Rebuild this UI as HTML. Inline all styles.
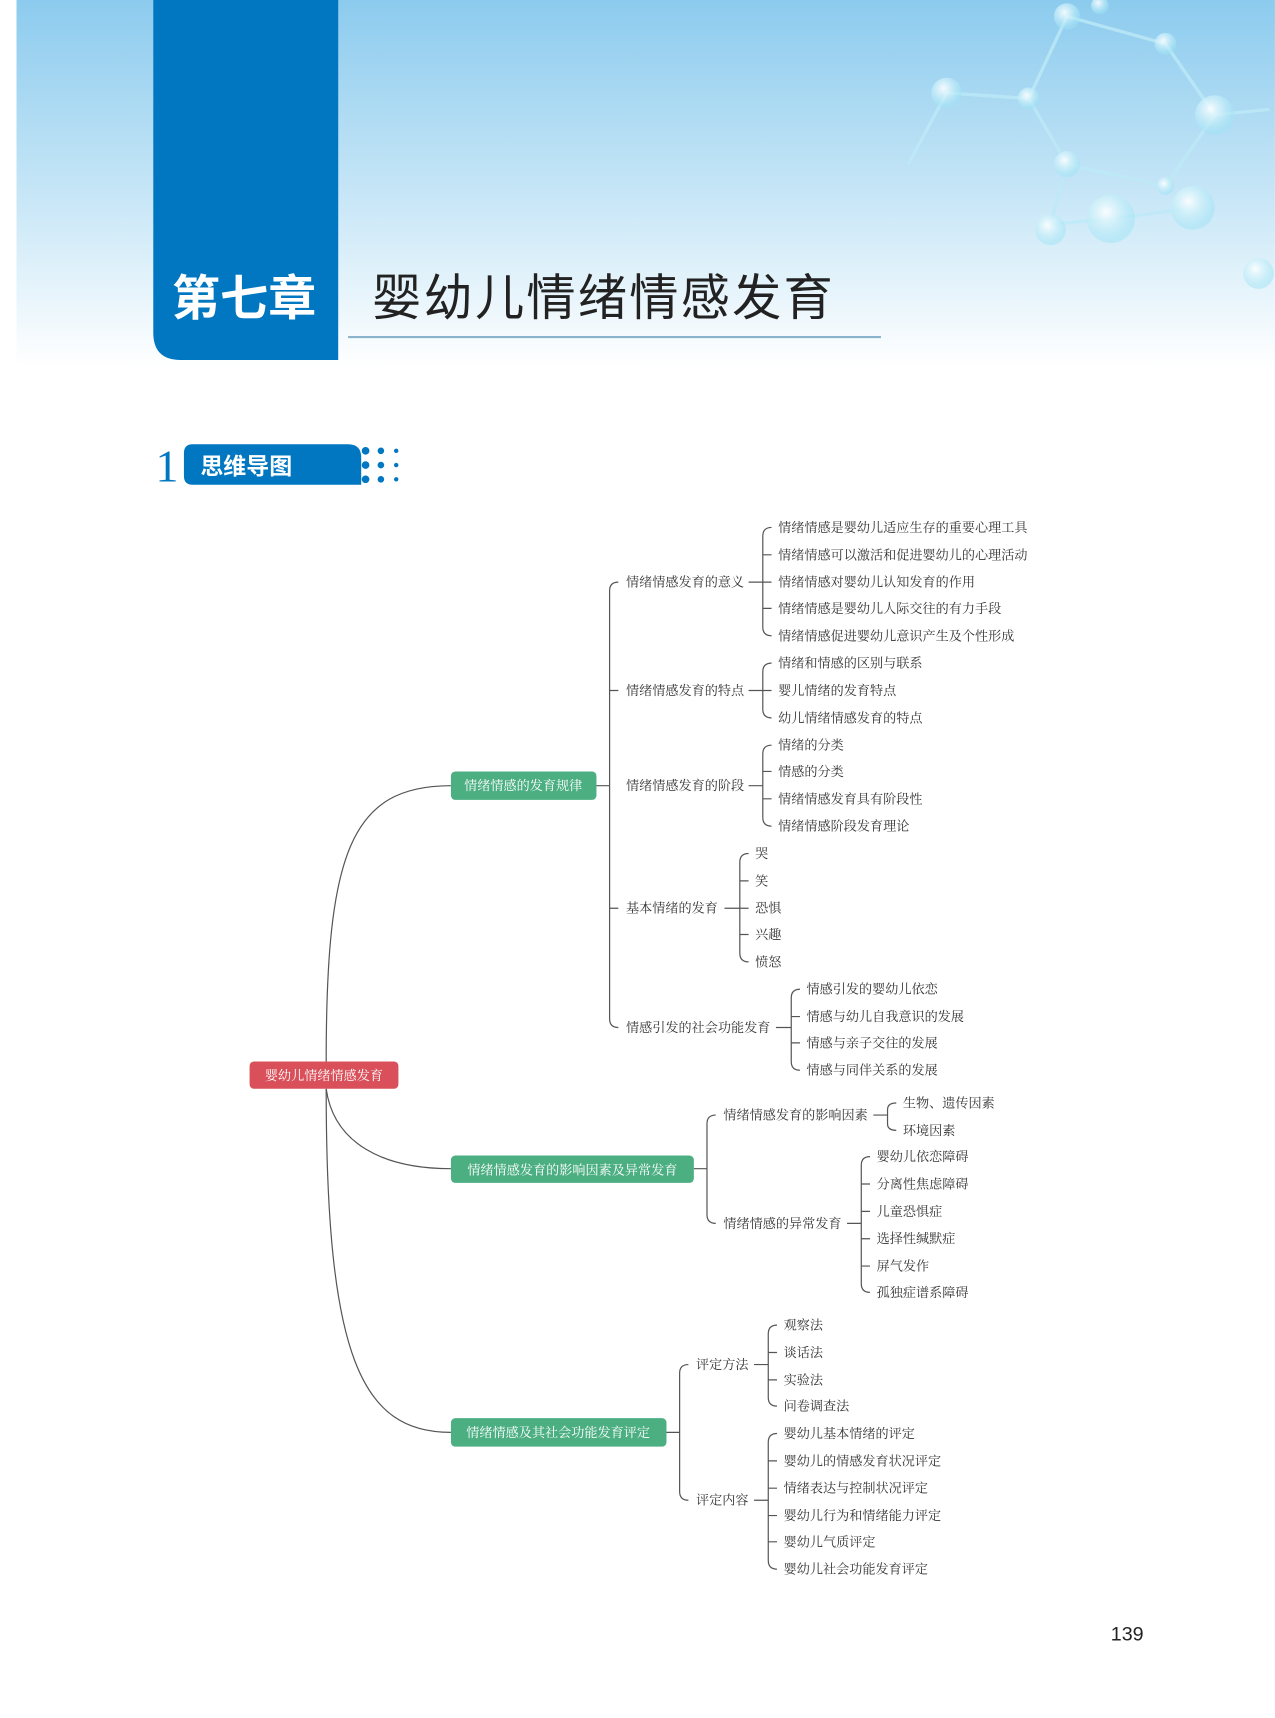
<!DOCTYPE html>
<html><head><meta charset="utf-8"><style>
html,body{margin:0;padding:0;background:#fff}
svg{display:block}
text{font-family:"Liberation Serif","Noto Serif CJK SC","Noto Sans CJK SC",serif;}
.l{font-size:12px;fill:#333;dominant-baseline:central}
.g{font-size:12px;fill:#fff;dominant-baseline:central}
.ln{fill:none;stroke:#555;stroke-width:1.1}
</style></head><body>
<svg width="1275" height="1718" viewBox="0 0 1165 1570" xmlns="http://www.w3.org/2000/svg">
<defs>
<linearGradient id="bg" x1="0" y1="0" x2="0" y2="1">
<stop offset="0" stop-color="#8ccbee"/><stop offset="0.55" stop-color="#c9e7f7"/><stop offset="1" stop-color="#ffffff"/>
</linearGradient>
<radialGradient id="bub" cx="0.4" cy="0.35" r="0.6">
<stop offset="0" stop-color="#ffffff" stop-opacity="0.9"/><stop offset="1" stop-color="#9fe3f5" stop-opacity="0.5"/>
</radialGradient>
</defs>
<rect x="15" y="0" width="1150" height="335" fill="url(#bg)"/>
<g stroke="#bdeaf7" stroke-width="3" fill="none" opacity="0.8">
<path d="M975,15 L1065,40 L1110,105 L1065,170 L975,150 L940,90 Z"/>
<path d="M940,90 L865,85 L830,150"/>
<path d="M1110,105 L1160,100"/>
<path d="M975,150 L960,205 L1015,200 L1090,190"/>
</g>
<g fill="url(#bub)">
<circle cx="975" cy="15" r="12"/><circle cx="1065" cy="40" r="10"/><circle cx="1110" cy="105" r="18"/>
<circle cx="1065" cy="170" r="8"/><circle cx="975" cy="150" r="12"/><circle cx="940" cy="90" r="10"/>
<circle cx="865" cy="85" r="14"/><circle cx="1015" cy="200" r="22"/><circle cx="1090" cy="190" r="20"/>
<circle cx="960" cy="210" r="14"/><circle cx="1150" cy="250" r="14"/><circle cx="1005" cy="5" r="8"/>
</g>
<path d="M140,0 H309 V329 H165 Q140,329 140,304 Z" fill="#0077c0"/>
<text x="157" y="288" style="font-family:'Liberation Sans','Noto Sans CJK SC',sans-serif;font-weight:bold;font-size:44px;fill:#fff">第七章</text>
<text x="340" y="288" style="font-family:'Liberation Sans','Noto Sans CJK SC',sans-serif;font-size:45px;letter-spacing:2px;fill:#222">婴幼儿情绪情感发育</text>
<line x1="318" y1="308" x2="805" y2="308" stroke="#8ab4cc" stroke-width="2"/>
<text x="142" y="440" style="font-family:'Liberation Serif',serif;font-size:42px;fill:#0077c0">1</text>
<path d="M176,406 H318 Q330,406 330,418 V443 H176 Q168,443 168,435 V414 Q168,406 176,406 Z" fill="#0077c0"/>
<text x="183" y="433" style="font-family:'Liberation Sans','Noto Sans CJK SC',sans-serif;font-weight:bold;font-size:21px;fill:#fff">思维导图</text>
<g fill="#0077c0">
<circle cx="320" cy="412" r="4"/><circle cx="320" cy="425" r="5"/><circle cx="320" cy="438" r="4"/>
<circle cx="334" cy="412" r="3.5"/><circle cx="334" cy="425" r="3.5"/><circle cx="334" cy="438" r="3.5"/>
<circle cx="348" cy="412" r="3"/><circle cx="348" cy="425" r="3"/><circle cx="348" cy="438" r="3"/>
<circle cx="362" cy="412" r="2"/><circle cx="362" cy="425" r="2"/><circle cx="362" cy="438" r="2"/>
</g>

<path class="ln" d="M298,970 C298,780 320,718 412,718"/>
<path class="ln" d="M298,995 C305,1045 350,1068 412,1068"/>
<path class="ln" d="M298,995 C298,1240 330,1309 412,1309"/>
<rect x="228" y="970" width="136" height="25" rx="4" fill="#d9505a"/>
<text class="g" x="296" y="983" text-anchor="middle">婴幼儿情绪情感发育</text>

<rect x="412" y="705" width="133" height="26" rx="4" fill="#4caf82"/>
<text class="g" x="478" y="718" text-anchor="middle">情绪情感的发育规律</text>
<rect x="412" y="1056" width="222" height="25" rx="4" fill="#4caf82"/>
<text class="g" x="523" y="1069" text-anchor="middle">情绪情感发育的影响因素及异常发育</text>
<rect x="412" y="1296" width="197" height="26" rx="4" fill="#4caf82"/>
<text class="g" x="510" y="1309" text-anchor="middle">情绪情感及其社会功能发育评定</text>

<path class="ln" d="M545,718 H557 M565,532 Q557,532 557,540 V931 Q557,939 565,939 M557,631 H565 M557,830 H565"/>
<text class="l" x="572" y="532">情绪情感发育的意义</text>
<text class="l" x="572" y="631">情绪情感发育的特点</text>
<text class="l" x="572" y="718">情绪情感发育的阶段</text>
<text class="l" x="572" y="830">基本情绪的发育</text>
<text class="l" x="572" y="939">情感引发的社会功能发育</text>

<path class="ln" d="M684,532 H697 M705,482 Q697,482 697,490 V573 Q697,581 705,581 M697,507 H705 M697,532 H705 M697,556 H705"/>
<text class="l" x="711" y="482">情绪情感是婴幼儿适应生存的重要心理工具</text>
<text class="l" x="711" y="507">情绪情感可以激活和促进婴幼儿的心理活动</text>
<text class="l" x="711" y="532">情绪情感对婴幼儿认知发育的作用</text>
<text class="l" x="711" y="556">情绪情感是婴幼儿人际交往的有力手段</text>
<text class="l" x="711" y="581">情绪情感促进婴幼儿意识产生及个性形成</text>

<path class="ln" d="M684,631 H697 M705,606 Q697,606 697,614 V648 Q697,656 705,656 M697,631 H705"/>
<text class="l" x="711" y="606">情绪和情感的区别与联系</text>
<text class="l" x="711" y="631">婴儿情绪的发育特点</text>
<text class="l" x="711" y="656">幼儿情绪情感发育的特点</text>

<path class="ln" d="M684,718 H697 M705,681 Q697,681 697,689 V747 Q697,755 705,755 M697,705 H705 M697,730 H705"/>
<text class="l" x="711" y="681">情绪的分类</text>
<text class="l" x="711" y="705">情感的分类</text>
<text class="l" x="711" y="730">情绪情感发育具有阶段性</text>
<text class="l" x="711" y="755">情绪情感阶段发育理论</text>

<path class="ln" d="M662,830 H676 M684,780 Q676,780 676,788 V871 Q676,879 684,879 M676,805 H684 M676,830 H684 M676,854 H684"/>
<text class="l" x="690" y="780">哭</text>
<text class="l" x="690" y="805">笑</text>
<text class="l" x="690" y="830">恐惧</text>
<text class="l" x="690" y="854">兴趣</text>
<text class="l" x="690" y="879">愤怒</text>

<path class="ln" d="M709,939 H723 M731,904 Q723,904 723,912 V970 Q723,978 731,978 M723,929 H731 M723,953 H731"/>
<text class="l" x="737" y="904">情感引发的婴幼儿依恋</text>
<text class="l" x="737" y="929">情感与幼儿自我意识的发展</text>
<text class="l" x="737" y="953">情感与亲子交往的发展</text>
<text class="l" x="737" y="978">情感与同伴关系的发展</text>

<path class="ln" d="M634,1068 H646 M654,1019 Q646,1019 646,1027 V1110 Q646,1118 654,1118"/>
<text class="l" x="661" y="1019">情绪情感发育的影响因素</text>
<text class="l" x="661" y="1118">情绪情感的异常发育</text>
<path class="ln" d="M798,1019 H811 M819,1008 Q811,1008 811,1014 V1027 Q811,1033 819,1033"/>
<text class="l" x="825" y="1008">生物、遗传因素</text>
<text class="l" x="825" y="1033">环境因素</text>
<path class="ln" d="M774,1118 H787 M795,1057 Q787,1057 787,1065 V1173 Q787,1181 795,1181 M787,1082 H795 M787,1107 H795 M787,1132 H795 M787,1157 H795"/>
<text class="l" x="801" y="1057">婴幼儿依恋障碍</text>
<text class="l" x="801" y="1082">分离性焦虑障碍</text>
<text class="l" x="801" y="1107">儿童恐惧症</text>
<text class="l" x="801" y="1132">选择性缄默症</text>
<text class="l" x="801" y="1157">屏气发作</text>
<text class="l" x="801" y="1181">孤独症谱系障碍</text>

<path class="ln" d="M609,1309 H621 M629,1247 Q621,1247 621,1255 V1363 Q621,1371 629,1371"/>
<text class="l" x="636" y="1247">评定方法</text>
<text class="l" x="636" y="1371">评定内容</text>
<path class="ln" d="M689,1247 H702 M710,1211 Q702,1211 702,1219 V1277 Q702,1285 710,1285 M702,1236 H710 M702,1261 H710"/>
<text class="l" x="716" y="1211">观察法</text>
<text class="l" x="716" y="1236">谈话法</text>
<text class="l" x="716" y="1261">实验法</text>
<text class="l" x="716" y="1285">问卷调查法</text>
<path class="ln" d="M689,1371 H702 M710,1310 Q702,1310 702,1318 V1426 Q702,1434 710,1434 M702,1335 H710 M702,1360 H710 M702,1385 H710 M702,1409 H710"/>
<text class="l" x="716" y="1310">婴幼儿基本情绪的评定</text>
<text class="l" x="716" y="1335">婴幼儿的情感发育状况评定</text>
<text class="l" x="716" y="1360">情绪表达与控制状况评定</text>
<text class="l" x="716" y="1385">婴幼儿行为和情绪能力评定</text>
<text class="l" x="716" y="1409">婴幼儿气质评定</text>
<text class="l" x="716" y="1434">婴幼儿社会功能发育评定</text>

<text x="1015" y="1499" style="font-family:'Liberation Sans',sans-serif;font-size:18px;fill:#222">139</text>
</svg>
</body></html>
